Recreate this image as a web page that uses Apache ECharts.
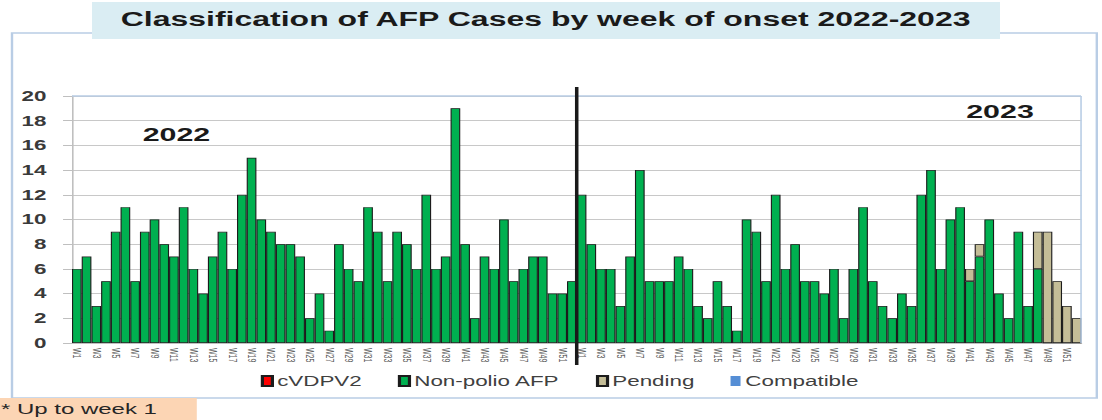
<!DOCTYPE html>
<html>
<head>
<meta charset="utf-8">
<script src="https://cdn.jsdelivr.net/npm/echarts@6/dist/echarts.min.js"></script>
<style>
  html, body { margin: 0; padding: 0; background: #fff; overflow: hidden; }
  /* the reference picture is stretched sideways, so the chart is drawn narrow and scaled */
  #chart { width: 688.75px; height: 420px; transform: scaleX(1.6); transform-origin: 0 0; }
</style>
</head>
<body>
<div id="chart"></div>
<script>
// AFP cases by week of onset 2022 - 2023
const weekLabels = Array.from({ length: 52 }, (_, i) => 'W' + (i + 1));

const nonPolio2022 = [6, 7, 3, 5, 9, 11, 5, 9, 10, 8, 7, 11, 6, 4, 7, 9, 6, 12, 15, 10,
  9, 8, 8, 7, 2, 4, 1, 8, 6, 5, 11, 9, 5, 9, 8, 6, 12, 6, 7, 19,
  8, 2, 7, 6, 10, 5, 6, 7, 7, 4, 4, 5];
const nonPolio2023 = [12, 8, 6, 6, 3, 7, 14, 5, 5, 5, 7, 6, 3, 2, 5, 3, 1, 10, 9, 5,
  12, 6, 8, 5, 5, 4, 6, 2, 6, 11, 5, 3, 2, 4, 3, 12, 14, 6, 10, 11,
  5, 7, 10, 4, 2, 9, 3, 6, 0, 0, 0, 0];
const pending2022 = [];
const pending2023 = [0, 0, 0, 0, 0, 0, 0, 0, 0, 0, 0, 0, 0, 0, 0, 0, 0, 0, 0, 0,
  0, 0, 0, 0, 0, 0, 0, 0, 0, 0, 0, 0, 0, 0, 0, 0, 0, 0, 0, 0,
  1, 1, 0, 0, 0, 0, 0, 3, 9, 5, 3, 2];
const cvdpv2 = [];
const compatible = [];

const yMin = 0, yMax = 20, yStep = 2;

const categories = weekLabels.concat(weekLabels);
const nonPolio = nonPolio2022.concat(nonPolio2023);
const pending = weekLabels.map((_, i) => pending2022[i] || '-')
  .concat(pending2023.map(v => v || '-'));

const font = 'Liberation Sans, Arial, sans-serif';
const gridLeft = 45, gridTop = 96, gridRight = 13.1, gridBottom = 77;
const W = 688.75, H = 420;

const chart = echarts.init(document.getElementById('chart'), null, { renderer: 'svg' });

const barStyle = (color) => ({ color: color, borderColor: '#1c1c1c', borderWidth: 0.7 });

const option = {
  animation: false,
  backgroundColor: '#fff',
  title: {
    text: 'Classification of AFP Cases by week of onset 2022-2023',
    left: 341, top: 9, padding: 0, textAlign: 'center',
    textStyle: { fontFamily: font, fontSize: 20, fontWeight: 'bold', color: '#1a1a1a' }
  },
  legend: {
    data: ['cVDPV2', 'Non-polio AFP', 'Pending', 'Compatible'],
    left: 163, top: 374, padding: 0, itemGap: 22.5,
    itemWidth: 6.25, itemHeight: 10, icon: 'rect',
    textStyle: { fontFamily: font, fontSize: 14, color: '#404040', padding: [0, 0, 0, -2] }
  },
  grid: { left: gridLeft, top: gridTop, right: gridRight, bottom: gridBottom, containLabel: false },
  xAxis: {
    type: 'category',
    data: categories,
    axisLine: { lineStyle: { color: '#bfbfbf' } },
    axisTick: { show: false },
    axisLabel: { interval: 1, rotate: -90, fontSize: 7, color: '#595959', margin: 5, fontFamily: font }
  },
  yAxis: {
    type: 'value', min: yMin, max: yMax, interval: yStep,
    axisLine: { show: true, lineStyle: { color: '#bfbfbf' } },
    axisTick: { show: true, length: 5.6, lineStyle: { color: '#bfbfbf' } },
    axisLabel: { fontSize: 14, fontWeight: 'bold', color: '#3a3a3a', margin: 16, fontFamily: font },
    splitLine: { lineStyle: { color: '#c8c8c8' } }
  },
  series: [
    { name: 'Non-polio AFP', type: 'bar', stack: 'afp', data: nonPolio, barCategoryGap: '0%', itemStyle: barStyle('#00b050') },
    { name: 'Pending', type: 'bar', stack: 'afp', data: pending, itemStyle: barStyle('#c4bd97') },
    { name: 'cVDPV2', type: 'bar', stack: 'afp', data: cvdpv2, itemStyle: barStyle('#ff0000') },
    { name: 'Compatible', type: 'bar', stack: 'afp', data: compatible, itemStyle: { color: '#558ed5' } }
  ],
  graphic: [
    { type: 'rect', id: 'frame', z: -10, shape: { x: 7.5, y: 33, width: 678, height: 365 },
      style: { fill: '#fff', stroke: '#b9cde5', lineWidth: 1.5 } },
    { type: 'rect', id: 'titleBox', z: -5, shape: { x: 57.5, y: 2, width: 567.5, height: 37 },
      style: { fill: '#daedf3' } },
    { type: 'rect', id: 'noteBox', z: -5, shape: { x: 0, y: 398, width: 123, height: 22 },
      style: { fill: '#fcd5b4' } },
    { type: 'text', id: 'note', z: 5, x: 0.6, y: 409,
      style: { text: '* Up to week 1', fontFamily: font, fontSize: 15, fill: '#262626', verticalAlign: 'middle' } },
    { type: 'text', id: 'y2022', z: 5, x: 110.3, y: 134.5,
      style: { text: '2022', fontFamily: font, fontSize: 19, fontWeight: 'bold', fill: '#1a1a1a', align: 'center', verticalAlign: 'middle' } },
    { type: 'text', id: 'y2023', z: 5, x: 625, y: 111,
      style: { text: '2023', fontFamily: font, fontSize: 19, fontWeight: 'bold', fill: '#1a1a1a', align: 'center', verticalAlign: 'middle' } },
    { type: 'line', id: 'plotTop', z: 10,
      shape: { x1: gridLeft, y1: gridTop, x2: W - gridRight, y2: gridTop },
      style: { stroke: '#b9cde5', lineWidth: 1.5 } },
    { type: 'line', id: 'plotRight', z: 10,
      shape: { x1: W - gridRight, y1: gridTop, x2: W - gridRight, y2: H - gridBottom },
      style: { stroke: '#b9cde5', lineWidth: 1 } }
  ]
};

chart.setOption(option);

// year divider between 2022 W52 and 2023 W1
const xa = chart.convertToPixel({ xAxisIndex: 0 }, nonPolio2022.length - 1);
const xb = chart.convertToPixel({ xAxisIndex: 0 }, nonPolio2022.length);
const xSplit = (xa + xb) / 2;
chart.setOption({
  graphic: [
    { type: 'line', id: 'divider', z: 20,
      shape: { x1: xSplit, y1: 87, x2: xSplit, y2: 365 },
      style: { stroke: '#1a1a1a', lineWidth: 2.2 } }
  ]
});
</script>
</body>
</html>
